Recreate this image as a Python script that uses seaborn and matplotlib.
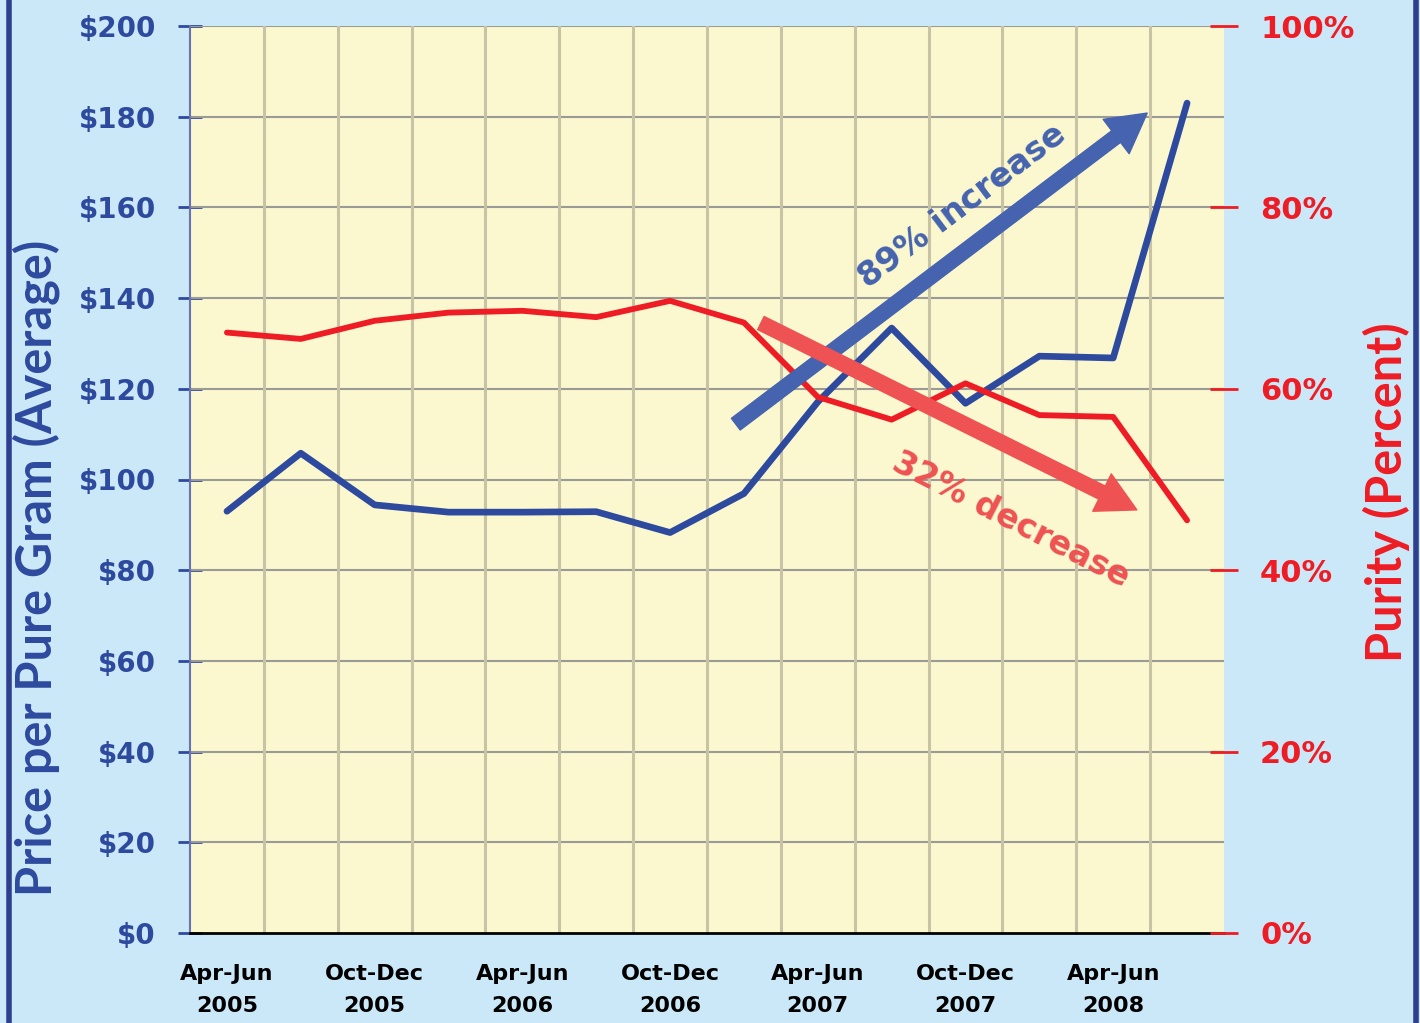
import pandas as pd
import numpy as np
import matplotlib.pyplot as plt
import seaborn as sns
from matplotlib.lines import Line2D

# DATA
quarters = ['Apr-Jun\n2005', 'Jul-Sep\n2005', 'Oct-Dec\n2005', 'Jan-Mar\n2006',
            'Apr-Jun\n2006', 'Jul-Sep\n2006', 'Oct-Dec\n2006', 'Jan-Mar\n2007',
            'Apr-Jun\n2007', 'Jul-Sep\n2007', 'Oct-Dec\n2007', 'Jan-Mar\n2008',
            'Apr-Jun\n2008', 'Jul-Sep\n2008']
price = [93.0, 105.8, 94.4, 92.8, 92.8, 92.9, 88.3, 96.9,
         117.1, 133.4, 116.8, 127.2, 126.8, 183.0]
purity = [66.2, 65.5, 67.5, 68.4, 68.6, 67.9, 69.7, 67.3,
          59.1, 56.6, 60.6, 57.1, 56.9, 45.5]
price_ticks = [0, 20, 40, 60, 80, 100, 120, 140, 160, 180, 200]
purity_ticks = [0, 20, 40, 60, 80, 100]

df = pd.DataFrame({'q': np.arange(len(quarters)), 'price': price, 'purity': purity})

BLUE = '#2E4A9E'
RED = '#EE1C24'
BG = '#CBE8F8'
PLOT_BG = '#FBF8CF'

sns.set_style("white")
plt.rcParams['font.family'] = ['DejaVu Sans']

fig = plt.figure(figsize=(14.2, 10.23), dpi=100, facecolor=BG)
ax = fig.add_axes([190 / 1420, 1 - 933 / 1023, (1224 - 190) / 1420, (933 - 26) / 1023])
ax.set_facecolor(PLOT_BG)

# grid
for y in price_ticks[1:]:
    ax.axhline(y, color='#9A9A96', lw=1.5, zorder=1)
for b in np.arange(0.5, len(quarters) - 0.5, 1):
    ax.axvline(b, color='#C9C3A6', lw=2.2, zorder=1)

# price line (left axis)
sns.lineplot(data=df, x='q', y='price', ax=ax, color=BLUE, linewidth=4.8,
             zorder=3, legend=False)
ax.set_xlim(-0.5, len(quarters) - 0.5)
ax.set_ylim(0, 200)
ax.set_yticks(price_ticks)
ax.set_yticklabels([f'${v}' for v in price_ticks])
ax.tick_params(axis='y', colors=BLUE, labelsize=20, direction='inout', length=17,
               width=2, pad=16)
for t in ax.get_yticklabels():
    t.set_fontweight('bold')

# x ticks: boundaries get tick marks, labels sit under every other quarter
ax.set_xticks(np.arange(-0.5, len(quarters), 1))
ax.set_xticklabels([])
ax.set_xticks(np.arange(0, len(quarters), 2), minor=True)
ax.set_xticklabels(quarters[::2], minor=True, fontsize=16, fontweight='bold',
                   linespacing=1.75)
ax.tick_params(axis='x', which='major', direction='out', length=8, width=2, colors='black')
ax.tick_params(axis='x', which='minor', length=0, pad=22, labelcolor='black')

for s in ['top', 'right']:
    ax.spines[s].set_visible(False)
ax.spines['left'].set_color('#6A72B4')
ax.spines['left'].set_linewidth(1.5)
ax.spines['bottom'].set_color('black')
ax.spines['bottom'].set_linewidth(2)

ax.set_xlabel('')
ax.set_ylabel('Price per Pure Gram (Average)', color=BLUE, fontsize=35,
              fontweight='bold', family=['Lato', 'DejaVu Sans'])
ax.yaxis.set_label_coords(-0.126, 0.403)

# purity line (right axis)
ax2 = ax.twinx()
ax2.patch.set_visible(False)
sns.lineplot(data=df, x='q', y='purity', ax=ax2, color=RED, linewidth=4.2,
             zorder=3, legend=False)
ax2.set_ylim(0, 100)
ax2.set_yticks(purity_ticks)
ax2.set_yticklabels([f'{v}%' for v in purity_ticks])
ax2.tick_params(axis='y', colors=RED, labelsize=22, direction='inout', length=20,
                width=2, pad=16)
for t in ax2.get_yticklabels():
    t.set_fontweight('bold')
for s in ['top', 'left', 'bottom', 'right']:
    ax2.spines[s].set_visible(False)
ax2.set_ylabel('Purity (Percent)', color=RED, fontsize=35, fontweight='bold',
               family=['Lato', 'DejaVu Sans'])
ax2.yaxis.set_label_coords(1.134, 0.486)

# trend arrows (drawn in price units on a top axis, above both lines)
ax3 = ax.twinx()
ax3.patch.set_visible(False)
ax3.set_ylim(0, 200)
ax3.set_yticks([])
for s in ax3.spines.values():
    s.set_visible(False)

ax3.annotate('', xy=(12.46, 180.8), xytext=(6.89, 112.2),
             arrowprops=dict(arrowstyle='simple,head_length=2.8,head_width=3.1,tail_width=1.05',
                             mutation_scale=10, color='#4563AE', shrinkA=0, shrinkB=0))
ax3.annotate('', xy=(12.32, 93.3), xytext=(7.23, 134.5),
             arrowprops=dict(arrowstyle='simple,head_length=2.8,head_width=3.0,tail_width=1.05',
                             mutation_scale=10, color='#EE5252', shrinkA=0, shrinkB=0))
ax3.text(9.96, 160.3, '89% increase', color='#4563AE', fontsize=24, fontweight='bold',
         rotation=37, ha='center', va='center', rotation_mode='anchor')
ax3.text(10.62, 91.0, '32% decrease', color='#EE5252', fontsize=24, fontweight='bold',
         rotation=-27, ha='center', va='center', rotation_mode='anchor')

# dark blue frame edges
fig.add_artist(Line2D([9 / 1420, 9 / 1420], [0, 1], color='#2E3F8F', lw=4))
fig.add_artist(Line2D([1416 / 1420, 1416 / 1420], [0, 1], color='#2E3F8F', lw=4))

fig.savefig('out.png', dpi=100, facecolor=BG)
